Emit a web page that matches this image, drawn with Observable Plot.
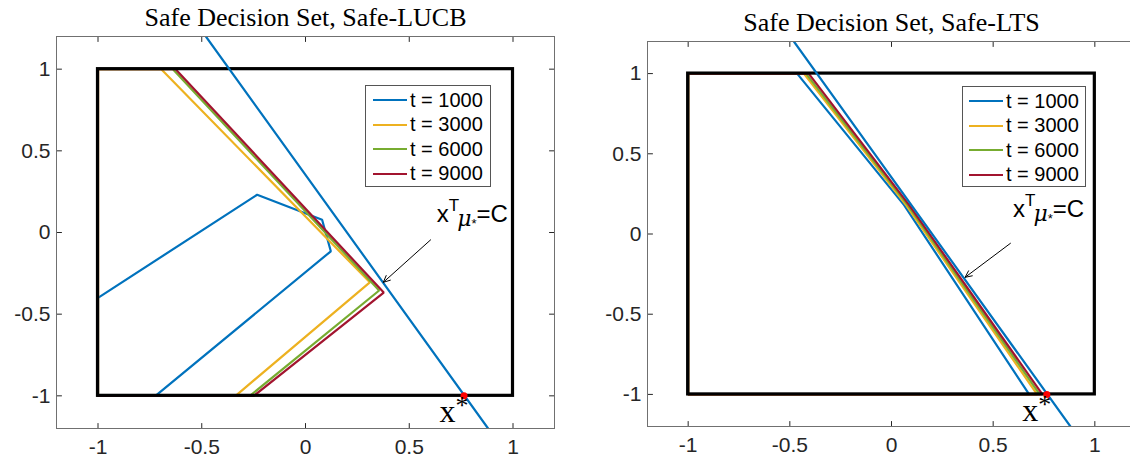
<!DOCTYPE html>
<html><head><meta charset="utf-8">
<script src="https://cdn.jsdelivr.net/npm/d3@7"></script>
<script src="https://cdn.jsdelivr.net/npm/@observablehq/plot@0.6"></script>
<style>
html,body{margin:0;padding:0;background:#fff;overflow:hidden;}
#wrap{position:relative;width:1130px;height:468px;overflow:hidden;background:#fff;}
.panel{position:absolute;top:0;}
.panel svg{max-width:none !important;}
.legend{position:absolute;background:#fff;border:1px solid #555;box-sizing:border-box;font-family:"Liberation Sans",Arial,sans-serif;font-size:20px;color:#000;}
.legend .row{position:absolute;left:0;height:24px;display:flex;align-items:center;}
.legend .sw{display:inline-block;width:34px;height:2px;margin-right:3px;}
</style></head><body><div id="wrap"></div>
<script>
// ---------- data ----------
const xTicks = [-1, -0.5, 0, 0.5, 1];
const yTicks = [-1, -0.5, 0, 0.5, 1];
const seriesNames = ["t = 1000", "t = 3000", "t = 6000", "t = 9000"];
const seriesColors = ["#0072BD", "#EDB120", "#77AC30", "#A2142F"];
const titles = ["Safe Decision Set, Safe-LUCB", "Safe Decision Set, Safe-LTS"];

// decision set box
const boxX1 = [-1], boxX2 = [1], boxY1 = [-1], boxY2 = [1];
// constraint line x^T mu_* = C
const cLineX = [-0.48, 0.88];
const cLineY = [1.2, -1.2];
// optimal point x*
const xStarX = [0.764];
const xStarY = [-1];

// Safe-LUCB safe sets (polygons)
const lucb1000X = [-1, -0.233, 0.08, 0.122, -0.723, -1, -1];
const lucb1000Y = [-0.40, 0.231, 0.078, -0.115, -1, -1, -0.40];
const lucb3000X = [-0.695, 0.31, -0.337, -1, -1, -0.695];
const lucb3000Y = [1, -0.305, -1, -1, 1, 1];
const lucb6000X = [-0.639, 0.355, -0.268, -1, -1, -0.639];
const lucb6000Y = [1, -0.355, -1, -1, 1, 1];
const lucb9000X = [-0.626, 0.377, -0.249, -1, -1, -0.626];
const lucb9000Y = [1, -0.368, -1, -1, 1, 1];

// Safe-LTS safe sets (polygons)
const lts1000X = [-0.464, 0.062, 0.677, -1, -1, -0.464];
const lts1000Y = [1, 0.18, -1, -1, 1, 1];
const lts3000X = [-0.431, 0.072, 0.716, -1, -1, -0.431];
const lts3000Y = [1, 0.18, -1, -1, 1, 1];
const lts6000X = [-0.42, 0.08, 0.729, -1, -1, -0.42];
const lts6000Y = [1, 0.18, -1, -1, 1, 1];
const lts9000X = [-0.407, 0.087, 0.742, -1, -1, -0.407];
const lts9000Y = [1, 0.18, -1, -1, 1, 1];

// annotation: arrow (tail -> head) and label anchor
const lucbArrow = {x1: 0.603, y1: -0.045, x2: 0.375, y2: -0.305};
const ltsArrow = {x1: 0.585, y1: -0.058, x2: 0.362, y2: -0.27};
const lucbLabel = {x: 0.635, y: 0.06};
const ltsLabel = {x: 0.6, y: 0.10};

// ---------- helpers ----------
function toRows(xs, ys, series) {
  return xs.map((x, i) => ({x, y: ys[i], series}));
}
const tickShape = {draw(ctx, l) { ctx.moveTo(0, 0); ctx.lineTo(0, -l); }};
const axisColor = "#262626";

function makePanel(cfg) {
  const rows = [];
  cfg.polys.forEach((p, i) => rows.push(...toRows(p[0], p[1], seriesNames[i])));
  const cRows = toRows(cLineX, cLineY, "C");
  const plot = Plot.plot({
    width: cfg.width, height: 468,
    marginLeft: cfg.ml, marginRight: cfg.mr, marginTop: cfg.mt, marginBottom: cfg.mb,
    style: {fontFamily: "Liberation Sans, Arial, sans-serif", fontSize: "21px", color: axisColor, background: "white", overflow: "visible", maxWidth: "none"},
    x: {domain: [-1.2, 1.2]},
    y: {domain: [-1.2, 1.2]},
    color: {domain: seriesNames, range: seriesColors},
    marks: [
      Plot.line(rows, {x: "x", y: "y", z: "series", stroke: "series", strokeWidth: 2.2, strokeLinejoin: "miter", clip: true}),
      Plot.rect([0], {x1: () => boxX1[0], x2: () => boxX2[0], y1: () => boxY1[0], y2: () => boxY2[0], fill: "none", stroke: "#000", strokeWidth: 3.2}),
      Plot.line(cRows, {x: "x", y: "y", stroke: seriesColors[0], strokeWidth: 2.2, clip: true}),
      Plot.arrow([cfg.arrow], {x1: "x1", y1: "y1", x2: "x2", y2: "y2", stroke: "#000", strokeWidth: 1, headLength: 11, headAngle: 50}),
      Plot.dot(xStarX.map((x, i) => ({x, y: xStarY[i]})), {x: "x", y: "y", r: 3.5, fill: "#ff0000", stroke: "none"}),
      Plot.axisX({ticks: xTicks, tickSize: 0, tickPadding: 11, tickFormat: d => String(d), fontSize: 21, fill: axisColor}),
      Plot.axisY({ticks: yTicks, tickSize: 0, tickPadding: 6, tickFormat: d => String(d), fontSize: 21, fill: axisColor}),
      Plot.vector(xTicks, {x: d => d, frameAnchor: "bottom", rotate: 0, length: 5, anchor: "start", shape: tickShape, stroke: axisColor, strokeWidth: 1}),
      Plot.vector(xTicks, {x: d => d, frameAnchor: "top", rotate: 180, length: 5, anchor: "start", shape: tickShape, stroke: axisColor, strokeWidth: 1}),
      Plot.vector(yTicks, {y: d => d, frameAnchor: "left", rotate: 90, length: 5, anchor: "start", shape: tickShape, stroke: axisColor, strokeWidth: 1}),
      Plot.vector(yTicks, {y: d => d, frameAnchor: "right", rotate: -90, length: 5, anchor: "start", shape: tickShape, stroke: axisColor, strokeWidth: 1}),
      Plot.frame({stroke: "#707070", strokeWidth: 1}),
      Plot.text([cfg.title], {frameAnchor: "top", dy: -11, lineAnchor: "bottom", fontFamily: "Liberation Serif, Times New Roman, serif", fontSize: 26, fill: "#000"})
    ]
  });
  const sx = plot.scale("x"), sy = plot.scale("y");
  const svg = d3.select(plot);
  // x^T mu_* = C label
  const t = svg.append("text")
    .attr("x", sx.apply(cfg.label.x)).attr("y", sy.apply(cfg.label.y))
    .attr("text-anchor", "start")
    .attr("font-family", "Liberation Sans, Arial, sans-serif").attr("font-size", 24).attr("fill", "#000");
  t.append("tspan").text("x");
  t.append("tspan").attr("font-size", 17).attr("dy", -11).text("T");
  t.append("tspan").attr("font-family", "DejaVu Serif, serif").attr("font-style", "italic").attr("font-size", 22).attr("dy", 15).attr("dx", -2).text("μ");
  t.append("tspan").attr("font-size", 13).attr("dy", 2).text("*");
  t.append("tspan").attr("font-size", 24).attr("dy", -6).text("=C");
  // x* label
  const s = svg.append("text")
    .attr("x", sx.apply(xStarX[0]) + 5).attr("y", sy.apply(xStarY[0]) + 27)
    .attr("text-anchor", "end")
    .attr("font-family", "Liberation Serif, Times New Roman, serif").attr("font-size", 32).attr("fill", "#000");
  s.append("tspan").text("x");
  s.append("tspan").attr("font-size", 26).attr("dy", -8).text("*");
  return plot;
}

const wrap = document.getElementById("wrap");

function addPanel(left, cfg) {
  const div = document.createElement("div");
  div.className = "panel";
  div.style.left = left + "px";
  div.style.width = cfg.width + "px";
  div.style.height = "468px";
  div.appendChild(makePanel(cfg));
  wrap.appendChild(div);
}

function addLegend(left, top, width, height, lineLeft) {
  const lg = document.createElement("div");
  lg.className = "legend";
  lg.style.left = left + "px"; lg.style.top = top + "px";
  lg.style.width = width + "px"; lg.style.height = height + "px";
  seriesNames.forEach((name, i) => {
    const row = document.createElement("div");
    row.className = "row";
    row.style.top = (2 + i * 24.6) + "px";
    row.style.left = lineLeft + "px";
    const sw = document.createElement("span");
    sw.className = "sw"; sw.style.background = seriesColors[i];
    const tx = document.createElement("span"); tx.textContent = name;
    row.appendChild(sw); row.appendChild(tx);
    lg.appendChild(row);
  });
  wrap.appendChild(lg);
}

addPanel(0, {
  width: 600, ml: 56, mr: 46, mt: 36, mb: 40, title: titles[0],
  polys: [[lucb1000X, lucb1000Y], [lucb3000X, lucb3000Y], [lucb6000X, lucb6000Y], [lucb9000X, lucb9000Y]],
  arrow: lucbArrow, label: lucbLabel
});
addPanel(600, {
  width: 545, ml: 47, mr: 10, mt: 41, mb: 42, title: titles[1],
  polys: [[lts1000X, lts1000Y], [lts3000X, lts3000Y], [lts6000X, lts6000Y], [lts9000X, lts9000Y]],
  arrow: ltsArrow, label: ltsLabel
});
addLegend(365, 85, 126, 102, 7);
addLegend(962, 86, 124, 101, 6);
</script></body></html>
